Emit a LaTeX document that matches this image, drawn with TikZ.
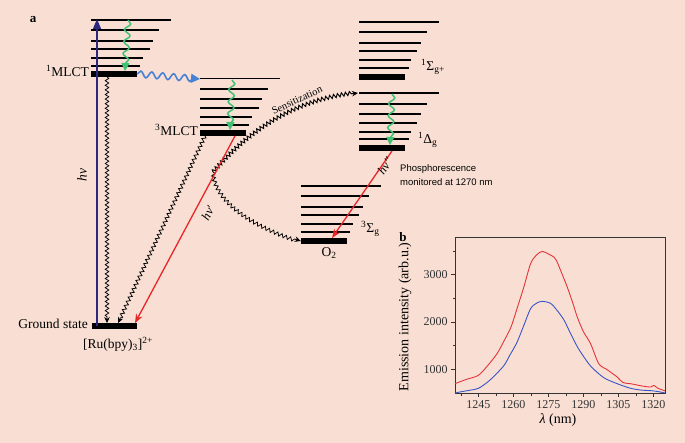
\documentclass[tikz,border=0pt]{standalone}
\usepackage{fontspec}
\setmainfont{Liberation Serif}
\setsansfont{Liberation Sans}
\usetikzlibrary{arrows.meta,decorations.pathmorphing,positioning}

\definecolor{bgpink}{RGB}{249,223,211}
\definecolor{excblue}{RGB}{45,40,125}
\definecolor{wavblue}{RGB}{72,130,215}
\definecolor{relgreen}{RGB}{66,192,118}
\definecolor{emred}{RGB}{232,38,40}
\definecolor{plotred}{RGB}{228,52,58}
\definecolor{plotblue}{RGB}{55,85,200}

\tikzset{
  lvl/.style={line width=1.7pt},
  bar/.style={rectangle, fill=black, inner sep=0pt, minimum height=5.5pt, minimum width=46pt},
  wave/.style={decorate, decoration={snake, amplitude=1.8pt, segment length=4.6pt, post length=5pt}, line width=0.75pt, -{Stealth[length=6pt,width=5.5pt]}},
  relax/.style={decorate, decoration={snake, amplitude=3pt, segment length=12pt, post length=5pt}, draw=relgreen, line width=1.5pt, -{Triangle[length=8pt,width=8pt]}},
  lbl/.style={font=\fontsize{13.5}{15}\selectfont, inner sep=0pt},
  tick/.style={font=\fontsize{12}{14}\selectfont, inner sep=0pt},
}

\begin{document}
\begin{tikzpicture}[x=1pt, y=-1pt]

  \fill[bgpink] (0,0) rectangle (685,443);
  \useasboundingbox (0,0) rectangle (685,443);

  \node (panela) [font=\fontsize{13}{14}\selectfont\bfseries, inner sep=0pt] at (33,20) {a};

  % 1MLCT
  \draw[lvl] (91,20) -- (171,20);
  \draw[lvl] (91,30) -- (159,30);
  \draw[lvl] (91,41) -- (153,41);
  \draw[lvl] (91,49) -- (150,49);
  \draw[lvl] (91,58) -- (143,58);
  \draw[lvl] (91,66) -- (140,66);
  \node (mlct1) [bar] at (114,74) {};
  \node (lmlct1) [lbl, anchor=east] at (89,71) {\textsuperscript{1}MLCT};

  % 3MLCT
  \draw[lvl] (200,78.5) -- (280,78.5);
  \draw[lvl] (200,89) -- (268,89);
  \draw[lvl] (200,99.3) -- (262,99.3);
  \draw[lvl] (200,108) -- (259,108);
  \draw[lvl] (200,116.7) -- (252,116.7);
  \draw[lvl] (200,124.7) -- (249,124.7);
  \node (mlct3) [bar] at (223,133) {};
  \node (lmlct3) [lbl, anchor=east] at (198,130) {\textsuperscript{3}MLCT};

  % singlet sigma
  \draw[lvl] (359,21.7) -- (439,21.7);
  \draw[lvl] (359,31.7) -- (427,31.7);
  \draw[lvl] (359,42.7) -- (421,42.7);
  \draw[lvl] (359,50.7) -- (417,50.7);
  \draw[lvl] (359,60) -- (411,60);
  \draw[lvl] (359,67.7) -- (409,67.7);
  \node (sigma) [bar] at (382,77) {};
  \node (lsigma) [lbl, anchor=west] at (421,67) {\textsuperscript{1}Σ\textsubscript{g+}};

  % singlet delta
  \draw[lvl] (359,93.3) -- (439,93.3);
  \draw[lvl] (359,103.7) -- (427,103.7);
  \draw[lvl] (359,114.3) -- (421,114.3);
  \draw[lvl] (359,122.7) -- (417,122.7);
  \draw[lvl] (359,131.7) -- (411,131.7);
  \draw[lvl] (359,139.3) -- (409,139.3);
  \node (delta) [bar] at (382,148) {};
  \node (ldelta) [lbl, anchor=west] at (418,140) {\textsuperscript{1}Δ\textsubscript{g}};

  % O2 ground
  \draw[lvl] (301,185.7) -- (381,185.7);
  \draw[lvl] (301,195.7) -- (369,195.7);
  \draw[lvl] (301,206.7) -- (363,206.7);
  \draw[lvl] (301,215) -- (359,215);
  \draw[lvl] (301,224.3) -- (353,224.3);
  \draw[lvl] (301,232) -- (350,232);
  \node (otwo) [bar] at (324,241) {};
  \node (ltrip) [lbl, anchor=west] at (361,229) {\textsuperscript{3}Σ\textsubscript{g}};
  \node (lotwo) [lbl] at (329,253) {O\textsubscript{2}};

  % Ru ground state
  \node (ground) [bar, minimum width=45pt] at (114,326) {};
  \node (lground) [lbl, anchor=east] at (88,323.5) {Ground state};
  \node (lru) [lbl] at (118,344) {[Ru(bpy)\textsubscript{3}]\textsuperscript{2+}};

  \coordinate (exctop) at (97,19);
  \coordinate (g1) at (128,20);
  \coordinate (g3) at (232,80);
  \coordinate (gd) at (392,94);
  \coordinate (t3top) at (200,79);
  \coordinate (dtop) at (358,93);
  \coordinate (tip) at (213,172);

  % excitation and relaxation
  \draw[excblue, line width=1.2pt, -{Triangle[length=10pt,width=8pt]}] ([xshift=-17pt]ground.center) -- (exctop);
  \node (lhv) [lbl, font=\fontsize{13.5}{15}\selectfont\itshape, rotate=90] at (82,175) {hν};
  \draw[relax] (g1) -- ([xshift=11pt]mlct1.north);
  \draw[relax] (g3) -- ([xshift=7pt]mlct3.north);
  \draw[relax] (gd) -- ([xshift=8pt]delta.north);
  \draw[decorate, decoration={snake, amplitude=3.2pt, segment length=11pt, post length=5pt}, draw=wavblue, line width=1.6pt, -{Triangle[length=9pt,width=9pt]}] (mlct1.east) -- (t3top);

  \draw[wave] ([xshift=-7pt]mlct1.south) -- ([xshift=-7pt]ground.north);
  \draw[wave] ([xshift=-18pt]mlct3.south) -- ([xshift=4pt]ground.north);

  % energy transfer
  \draw[wave, line width=0.95pt, decoration={amplitude=1.9pt, segment length=4pt}] (tip) .. controls (245,135) and (290,100) .. (dtop);
  \draw[wave] (tip) .. controls (215,200) and (250,225) .. (otwo.west);
  \node (lsens) [font=\fontsize{10.5}{12}\selectfont, inner sep=0pt, rotate=25] at (297,100) {Sensitization};

  % emission
  \draw[emred, line width=1.3pt, -{Stealth[length=9pt,width=7pt]}] ([xshift=12pt]mlct3.south) -- ([xshift=21pt]ground.north);
  \node (lhv1) [lbl, font=\fontsize{12.5}{14}\selectfont\itshape, rotate=62] at (208,213) {hν′};
  \draw[emred, line width=1.3pt, -{Stealth[length=9pt,width=7pt]}] ([xshift=10pt]delta.south) -- ([xshift=8pt]otwo.north);
  \node (lhv2) [lbl, font=\fontsize{12.5}{14}\selectfont\itshape, rotate=56] at (385,166) {hν″};
  \node (lphos) [font=\sffamily\fontsize{9.5}{14.5}\selectfont, inner sep=0pt, anchor=north west, align=left] at (400,164) {Phosphorescence\\monitored at 1270 nm};

  % panel b
  \node (panelb) [font=\fontsize{13}{14}\selectfont\bfseries, inner sep=0pt] at (403,237) {b};
  \begin{scope}[shift={(455pt,-393pt)}, x=2.3333pt, y=0.0473pt, shift={(-1235,-500)}]
    \draw[black!80, line width=0.8pt] (1235,500) rectangle (1325,3780);
    \foreach \t in {1245,1260,...,1320}
      \draw[black!80, line width=0.7pt] (\t,500) -- ++(0pt,-4pt) node[tick, below=3pt] {\t};
    \foreach \t in {1237.5,1252.5,...,1322.5}
      \draw[black!80, line width=0.6pt] (\t,500) -- ++(0pt,-2.5pt);
    \foreach \v in {1000,2000,3000}
      \draw[black!80, line width=0.7pt] (1235,\v) -- ++(-4pt,0pt) node[tick, left=3pt] {\v};
    \foreach \v in {1500,2500,3500}
      \draw[black!80, line width=0.6pt] (1235,\v) -- ++(-2.5pt,0pt);
    \draw[plotred, line width=0.9pt] plot[smooth, tension=0.5] coordinates {
      (1235,697) (1240,790) (1245,873) (1249,1080) (1253,1331) (1256,1600)
      (1259,1895) (1262,2350) (1264.5,2740) (1267.4,3234) (1270,3420) (1272.4,3493)
      (1275,3440) (1277.4,3374) (1278.5,3300) (1281,3000) (1283.1,2740) (1285.5,2400)
      (1287.4,2106) (1290,1800) (1293.1,1543) (1296.6,1120) (1300,1000) (1304.5,838)
      (1307,720) (1310.2,697) (1315,650) (1318.8,626) (1320.2,660) (1322,600) (1325,545)};
    \draw[plotblue, line width=0.9pt] plot[smooth, tension=0.5] coordinates {
      (1235,499) (1238,530) (1241.5,560) (1245.1,600) (1250,774) (1255.8,1070)
      (1258.5,1300) (1261.5,1564) (1264.5,1930) (1267.4,2283) (1270,2400) (1272.4,2437)
      (1276,2394) (1279,2230) (1281.7,2043) (1284.5,1760) (1287.4,1480) (1290,1280)
      (1293.1,1070) (1297.4,874) (1300,790) (1304.5,697) (1310.2,600) (1315,560)
      (1318.8,550) (1322,530) (1325,500)};
  \end{scope}
  \node (ylab) [font=\fontsize{14}{16}\selectfont, inner sep=0pt, rotate=90] at (405,317) {Emission intensity (arb.u.)};
  \node (xlab) [font=\fontsize{14}{16}\selectfont, inner sep=0pt] at (558,420) {\textit{λ} (nm)};

\end{tikzpicture}
\end{document}
